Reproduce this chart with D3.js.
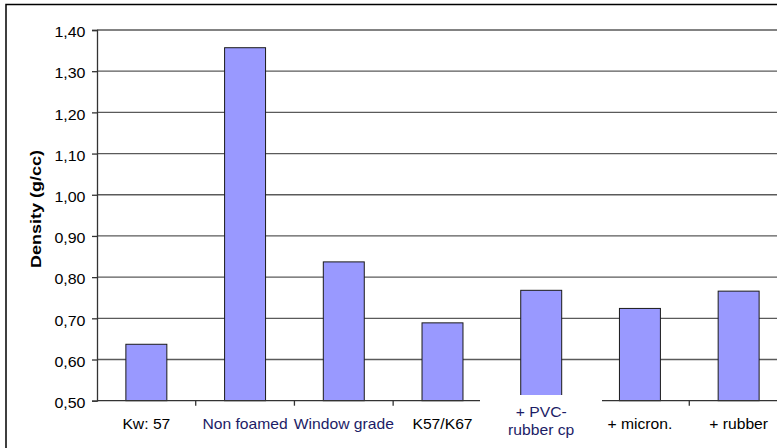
<!DOCTYPE html>
<html>
<head>
<meta charset="utf-8">
<script src="https://cdn.jsdelivr.net/npm/d3@7"></script>
<style>
  body { margin: 0; background: #fff; }
  text { font-family: "Liberation Sans", Arial, sans-serif; }
</style>
</head>
<body>
<div id="svg-area"></div>
<script>
// chart data
var categories = ["Kw: 57", "Non foamed", "Window grade", "K57/K67", "+ PVC-\nrubber cp", "+ micron.", "+ rubber"];
var densities = [0.637, 1.357, 0.837, 0.689, 0.768, 0.724, 0.766];
var labelColors = ["#000", "#1c1c66", "#1c1c66", "#000", "#1c1c66", "#000", "#000"];
var yTicks = [0.5, 0.6, 0.7, 0.8, 0.9, 1.0, 1.1, 1.2, 1.3, 1.4];

// define dimensions of svg container
var svgWidth = 777;
var svgHeight = 448;

// plot area (right edge runs past the picture)
var plotLeft = 97, plotRight = 788, plotTop = 30, plotBottom = 400.7;

var svg = d3.select("#svg-area").append("svg")
    .attr("width", svgWidth)
    .attr("height", svgHeight);

// outer frame, cut off at right and bottom
svg.append("rect")
    .attr("x", 6).attr("y", 4.5)
    .attr("width", 900).attr("height", 600)
    .attr("fill", "none")
    .attr("stroke", "#000")
    .attr("stroke-width", 1.5);

// scales
var xBand = d3.scaleBand()
    .domain(categories)
    .range([plotLeft, plotRight])
    .paddingInner(0.585)
    .paddingOuter(0.2925);

var yLinearScale = d3.scaleLinear()
    .domain([0.5, 1.4])
    .range([plotBottom, plotTop]);

var fmt = function (v) { return d3.format(".2f")(v).replace(".", ","); };

// gridlines
svg.append("g").selectAll("line")
    .data(yTicks.slice(1))
    .enter()
    .append("line")
    .attr("x1", plotLeft).attr("x2", svgWidth + 20)
    .attr("y1", d => yLinearScale(d)).attr("y2", d => yLinearScale(d))
    .attr("stroke", "#5a5a5a")
    .attr("stroke-width", 1.3);

// bars
svg.append("g").selectAll("rect")
    .data(densities)
    .enter()
    .append("rect")
    .attr("x", (d, i) => xBand(categories[i]))
    .attr("width", xBand.bandwidth())
    .attr("y", d => yLinearScale(d))
    .attr("height", d => yLinearScale(0.5) - yLinearScale(d))
    .attr("fill", "#9999ff")
    .attr("stroke", "#1a1a1a")
    .attr("stroke-width", 1);

// y axis with ticks on the left
var leftAxis = d3.axisLeft(yLinearScale)
    .tickValues(yTicks)
    .tickSize(5)
    .tickFormat("");
var yAxis = svg.append("g")
    .attr("transform", `translate(${plotLeft}, 0)`)
    .call(leftAxis);
yAxis.select(".domain").attr("stroke", "#333").attr("stroke-width", 1.3);
yAxis.selectAll(".tick line").attr("stroke", "#333").attr("stroke-width", 1.3);

// x axis line and ticks at category borders
var xAxisGroup = svg.append("g");
xAxisGroup.append("line")
    .attr("x1", plotLeft).attr("x2", plotRight)
    .attr("y1", plotBottom).attr("y2", plotBottom)
    .attr("stroke", "#333").attr("stroke-width", 1.3);
xAxisGroup.selectAll(".xtick")
    .data(categories.slice(1))
    .enter()
    .append("line")
    .attr("x1", d => xBand(d) - xBand.step() * xBand.paddingInner() / 2)
    .attr("x2", d => xBand(d) - xBand.step() * xBand.paddingInner() / 2)
    .attr("y1", plotBottom).attr("y2", plotBottom + 5)
    .attr("stroke", "#333").attr("stroke-width", 1.3);

// pasted-in patch under the PVC bar hides the axis there
svg.append("rect")
    .attr("x", 480).attr("y", 395)
    .attr("width", 122).attr("height", 60)
    .attr("fill", "#fff");

// y tick labels
svg.append("g").selectAll("text")
    .data(yTicks)
    .enter()
    .append("text")
    .attr("transform", d => `translate(85.5, ${yLinearScale(d) + 7.3}) scale(1.14, 1)`)
    .attr("text-anchor", "end")
    .attr("font-size", "14px")
    .attr("fill", "#000")
    .text(d => fmt(d));

// category labels
var catLabels = svg.append("g").selectAll("text")
    .data(categories)
    .enter()
    .append("text")
    .attr("transform", d => {
        var cx = xBand(d) + xBand.bandwidth() / 2;
        var y = d.indexOf("\n") >= 0 ? 416.7 : 429;
        return `translate(${cx}, ${y}) scale(1.12, 1)`;
    })
    .attr("text-anchor", "middle")
    .attr("font-size", "14px")
    .attr("fill", (d, i) => labelColors[i]);

catLabels.each(function (d) {
    var lines = d.split("\n");
    d3.select(this).selectAll("tspan")
        .data(lines)
        .enter()
        .append("tspan")
        .attr("x", 0)
        .attr("dy", (l, j) => j === 0 ? 0 : 18.6)
        .text(l => l);
});

// y axis title
svg.append("text")
    .attr("transform", "translate(40.7, 209) rotate(-90) scale(1.2, 1)")
    .attr("text-anchor", "middle")
    .attr("font-size", "15px")
    .attr("font-weight", "bold")
    .attr("fill", "#000")
    .text("Density (g/cc)");
</script>
</body>
</html>
